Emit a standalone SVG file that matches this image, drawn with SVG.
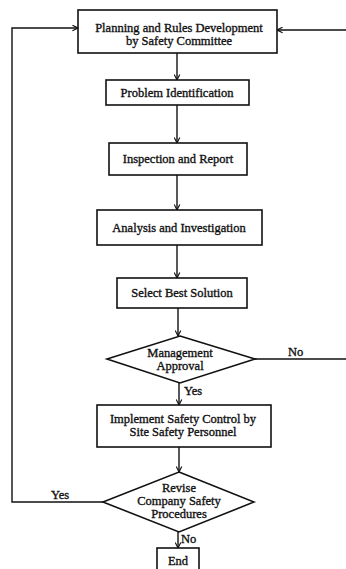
<svg xmlns="http://www.w3.org/2000/svg" width="346" height="569" viewBox="0 0 346 569">
<style>
.box{fill:#fff;stroke:#111;stroke-width:1.6}
.t{font-family:"Liberation Serif","Times New Roman",serif;font-size:12.5px;fill:#111;stroke:#111;stroke-width:0.35;text-anchor:middle}
.l{font-family:"Liberation Serif","Times New Roman",serif;font-size:12.5px;fill:#111;stroke:#111;stroke-width:0.35}
.c{fill:none;stroke:#111;stroke-width:1.4}
</style>
<defs>
<marker id="ah" viewBox="0 0 10 10" refX="9" refY="5" markerWidth="7" markerHeight="7" orient="auto" markerUnits="userSpaceOnUse">
<path d="M1,1 L9,5 L1,9" fill="none" stroke="#111" stroke-width="1.6"/>
</marker>
</defs>
<rect width="346" height="569" fill="#fff"/>
<g id="connectors">
<path class="c" d="M177,53 V80" marker-end="url(#ah)"/>
<path class="c" d="M177,105 V143" marker-end="url(#ah)"/>
<path class="c" d="M177,175 V210" marker-end="url(#ah)"/>
<path class="c" d="M177,245 V278" marker-end="url(#ah)"/>
<path class="c" d="M178,308 V336" marker-end="url(#ah)"/>
<path class="c" d="M179,383 V405" marker-end="url(#ah)"/>
<path class="c" d="M179,447 V472" marker-end="url(#ah)"/>
<path class="c" d="M178,532 V548" marker-end="url(#ah)"/>
<path class="c" d="M103,502 H12 V28 H78" marker-end="url(#ah)"/>
<path class="c" d="M255,359 H350 V30 H277" marker-end="url(#ah)"/>
<text class="l" x="51" y="499">Yes</text>
<text class="l" x="288" y="356">No</text>
<text class="l" x="184" y="395">Yes</text>
<text class="l" x="181" y="543">No</text>
</g>
<g id="planning">
<rect class="box" x="78" y="10" width="199" height="43"/>
<text class="t" x="179" y="32">Planning and Rules Development</text>
<text class="t" x="179" y="45">by Safety Committee</text>
</g>
<g id="problem">
<rect class="box" x="106" y="80" width="143" height="25"/>
<text class="t" x="177" y="97">Problem Identification</text>
</g>
<g id="inspection">
<rect class="box" x="109" y="143" width="138" height="32"/>
<text class="t" x="178" y="163">Inspection and Report</text>
</g>
<g id="analysis">
<rect class="box" x="97" y="210" width="165" height="35"/>
<text class="t" x="179" y="232">Analysis and Investigation</text>
</g>
<g id="select">
<rect class="box" x="117" y="278" width="130" height="30"/>
<text class="t" x="182" y="297">Select Best Solution</text>
</g>
<g id="approval">
<polygon class="box" points="180,336 255,359 180,383 107,359"/>
<text class="t" x="180" y="357">Management</text>
<text class="t" x="180" y="370">Approval</text>
</g>
<g id="implement">
<rect class="box" x="97" y="405" width="174" height="42"/>
<text class="t" x="183" y="423">Implement Safety Control by</text>
<text class="t" x="183" y="436">Site Safety Personnel</text>
</g>
<g id="revise">
<polygon class="box" points="179,472 254,502 179,532 103,502"/>
<text class="t" x="179" y="492">Revise</text>
<text class="t" x="179" y="505">Company Safety</text>
<text class="t" x="179" y="518">Procedures</text>
</g>
<g id="end">
<rect class="box" x="157" y="548" width="42" height="30"/>
<text class="t" x="178" y="565">End</text>
</g>
</svg>
